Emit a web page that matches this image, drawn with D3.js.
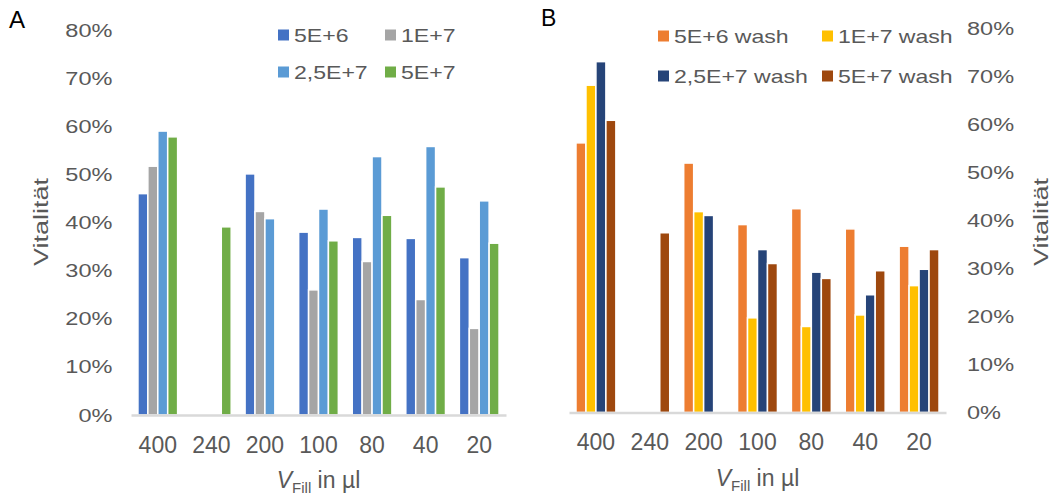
<!DOCTYPE html>
<html>
<head>
<meta charset="utf-8">
<script src="https://cdn.jsdelivr.net/npm/d3@7"></script>
<style>
  body { margin: 0; background: #fff; }
  svg { display: block; font-family: "Liberation Sans", Arial, sans-serif; }
</style>
</head>
<body>
<svg id="chart" width="1056" height="497"></svg>
<script>
// data (percent)
const categories = ['400', '240', '200', '100', '80', '40', '20'];
const yTicks = [0, 10, 20, 30, 40, 50, 60, 70, 80];

const seriesA = ['5E+6', '1E+7', '2,5E+7', '5E+7'];
const colorsA = ['#4472C4', '#A5A5A5', '#5B9BD5', '#70AD47'];
const a5e6 = [46.0, null, 50.1, 38.0, 36.9, 36.7, 32.7];
const a1e7 = [51.7, null, 42.3, 26.0, 31.9, 24.0, 18.0];
const a25e7 = [59.0, null, 40.8, 42.8, 53.7, 55.8, 44.5];
const a5e7 = [57.8, 39.1, null, 36.2, 41.5, 47.4, 35.7];

const seriesB = ['5E+6 wash', '1E+7 wash', '2,5E+7 wash', '5E+7 wash'];
const colorsB = ['#ED7D31', '#FFC000', '#264478', '#9E480E'];
const b5e6 = [56.1, null, 51.9, 39.1, 42.4, 38.2, 34.6];
const b1e7 = [68.1, null, 41.8, 19.7, 17.9, 20.3, 26.4];
const b25e7 = [73.0, null, 41.0, 33.9, 29.2, 24.5, 29.8];
const b5e7 = [60.8, 37.4, null, 31.0, 27.9, 29.5, 33.9];

const txt = '#595959';
const svg = d3.select('#chart');

function panel(opt) {
    const g = svg.append('g');

    const x0 = d3.scaleBand().domain(categories).range([opt.left, opt.right]);
    const x1 = d3.scaleBand().domain(d3.range(4)).range([0, x0.bandwidth()]).paddingOuter(0.7);
    const y = d3.scaleLinear().domain([0, 80]).range([opt.bottom, opt.top]);

    // bars
    opt.values.forEach((vals, si) => {
        const pts = categories.map((c, i) => ({ c: c, v: vals[i] })).filter(d => d.v != null);
        g.append('g').selectAll('rect').data(pts).enter().append('rect')
            .attr('x', d => x0(d.c) + x1(si))
            .attr('y', d => y(d.v))
            .attr('width', x1.bandwidth())
            .attr('height', d => y(0) - y(d.v))
            .attr('fill', opt.colors[si])
            .attr('stroke', '#fff')
            .attr('stroke-width', 1.5);
    });

    // x axis
    const xAxis = g.append('g').attr('transform', `translate(0,${opt.bottom})`)
        .call(d3.axisBottom(x0).tickSize(0).tickSizeOuter(0).tickPadding(21.5));
    xAxis.select('.domain').attr('stroke', '#D9D9D9').attr('stroke-width', 2.5);
    xAxis.selectAll('text').attr('fill', txt).style('font-size', '23px')
        .style('font-family', '"Liberation Sans", Arial, sans-serif');

    // y axis
    const yAxisFn = opt.rightAxis ? d3.axisRight(y) : d3.axisLeft(y);
    const yAxis = g.append('g')
        .attr('transform', `translate(${opt.rightAxis ? opt.right : opt.left},0)`)
        .call(yAxisFn.tickValues(yTicks).tickFormat(d => d + '%').tickSize(0));
    yAxis.select('.domain').remove();
    const pad = opt.rightAxis ? 21 : -18.5;
    yAxis.selectAll('text')
        .attr('x', 0)
        .attr('fill', txt)
        .attr('transform', `translate(${pad},0) scale(1.24,1)`)
        .style('font-size', '19px')
        .style('font-family', '"Liberation Sans", Arial, sans-serif');

    // y title
    g.append('text')
        .attr('transform', `translate(${opt.yTitleX},222) rotate(-90) scale(1.35,1)`)
        .attr('text-anchor', 'middle')
        .attr('dy', '0.35em')
        .attr('fill', txt)
        .style('font-size', '20px')
        .text('Vitalität');

    // x title
    const xt = g.append('text')
        .attr('x', (opt.left + opt.right) / 2)
        .attr('y', opt.bottom + 73)
        .attr('text-anchor', 'middle')
        .attr('fill', txt)
        .style('font-size', '23px');
    xt.append('tspan').style('font-style', 'italic').text('V');
    xt.append('tspan').attr('dy', 5).style('font-size', '15px').text('Fill');
    xt.append('tspan').attr('dy', -5).text(' in µl');

    // panel letter
    svg.append('text')
        .attr('transform', `translate(${opt.letterX},${opt.letterY}) scale(${opt.letterScale},1)`)
        .attr('fill', '#000')
        .style('font-size', '23px')
        .style('font-family', '"Liberation Sans", Arial, sans-serif')
        .text(opt.letter);

    // legend
    const leg = g.append('g');
    opt.series.forEach((s, i) => {
        const col = i % 2, row = Math.floor(i / 2);
        const lx = opt.legX[col], ly = opt.legY[row];
        leg.append('rect')
            .attr('x', lx).attr('y', ly - 5.5)
            .attr('width', 11).attr('height', 11)
            .attr('fill', opt.colors[i]);
        leg.append('text')
            .attr('transform', `translate(${lx + 16},${ly}) scale(1.24,1)`)
            .attr('dy', '0.35em')
            .attr('fill', txt)
            .style('font-size', '18.6px')
            .text(s);
    });
}

panel({
    left: 131, right: 506, top: 30, bottom: 415,
    values: [a5e6, a1e7, a25e7, a5e7], colors: colorsA, series: seriesA,
    rightAxis: false, yTitleX: 41,
    letter: 'A', letterX: 9, letterY: 28, letterScale: 1.05,
    legX: [278, 385], legY: [35, 72]
});

panel({
    left: 569, right: 946, top: 28, bottom: 412.5,
    values: [b5e6, b1e7, b25e7, b5e7], colors: colorsB, series: seriesB,
    rightAxis: true, yTitleX: 1041,
    letter: 'B', letterX: 541, letterY: 26, letterScale: 1,
    legX: [658, 822], legY: [36, 76]
});
</script>
</body>
</html>
